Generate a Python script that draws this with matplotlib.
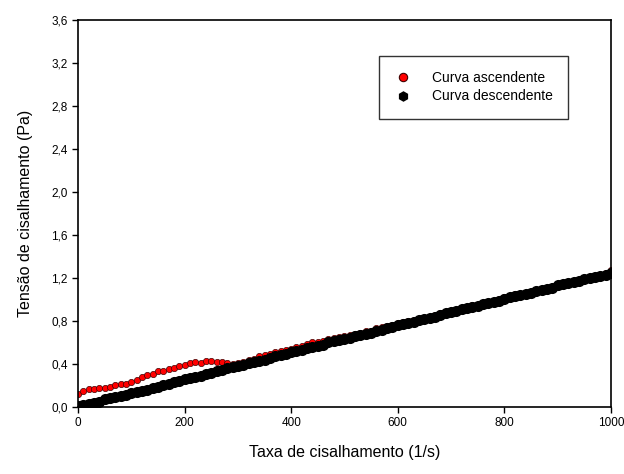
import numpy as np
import matplotlib
matplotlib.use('Agg')
import matplotlib.pyplot as plt
from matplotlib.ticker import FuncFormatter

plt.rcParams['font.family'] = ['Liberation Sans', 'DejaVu Sans']

# taxa de cisalhamento (1/s)
taxa = np.arange(0, 1001, 10)

# tensão de cisalhamento (Pa) - curva ascendente
tensao_asc = [0.12, 0.15, 0.17, 0.17, 0.18, 0.18, 0.19, 0.20, 0.21, 0.21,
              0.23, 0.25, 0.28, 0.30, 0.31, 0.33, 0.33, 0.35, 0.36, 0.38,
              0.39, 0.41, 0.42, 0.41, 0.43, 0.43, 0.42, 0.42, 0.41, 0.40,
              0.41, 0.42, 0.44, 0.45, 0.47, 0.48, 0.49, 0.51, 0.52, 0.53,
              0.54, 0.56, 0.57, 0.59, 0.60, 0.60, 0.61, 0.63, 0.64, 0.65,
              0.66, 0.67, 0.68, 0.69, 0.71, 0.71, 0.73, 0.74, 0.75, 0.76,
              0.78, 0.79, 0.80, 0.81, 0.82, 0.83, 0.84, 0.86, 0.87, 0.88,
              0.89, 0.90, 0.92, 0.93, 0.95, 0.95, 0.97, 0.98, 0.99, 1.00,
              1.02, 1.03, 1.05, 1.05, 1.06, 1.07, 1.09, 1.10, 1.11, 1.12,
              1.14, 1.15, 1.16, 1.17, 1.18, 1.20, 1.21, 1.22, 1.23, 1.25,
              1.27]

# curva descendente
tensao_desc = [0.01, 0.02, 0.03, 0.04, 0.05, 0.07, 0.08, 0.09, 0.10, 0.11,
               0.13, 0.14, 0.15, 0.16, 0.18, 0.19, 0.20, 0.21, 0.23, 0.24,
               0.26, 0.27, 0.28, 0.29, 0.31, 0.32, 0.33, 0.34, 0.36, 0.37,
               0.38, 0.39, 0.41, 0.42, 0.43, 0.44, 0.46, 0.47, 0.48, 0.49,
               0.51, 0.52, 0.53, 0.55, 0.56, 0.57, 0.58, 0.60, 0.61, 0.62,
               0.63, 0.64, 0.66, 0.67, 0.68, 0.69, 0.71, 0.72, 0.73, 0.74,
               0.76, 0.77, 0.78, 0.79, 0.81, 0.82, 0.83, 0.84, 0.86, 0.87,
               0.88, 0.89, 0.91, 0.92, 0.93, 0.94, 0.96, 0.97, 0.98, 0.99,
               1.00, 1.02, 1.03, 1.04, 1.05, 1.06, 1.08, 1.09, 1.10, 1.11,
               1.13, 1.14, 1.15, 1.16, 1.17, 1.19, 1.20, 1.21, 1.22, 1.23,
               1.25]

fig = plt.figure(figsize=(6.24, 4.74), dpi=100)
ax = fig.add_axes([0.125, 0.1414, 0.854, 0.8166])

ax.plot(taxa, tensao_asc, 'o', color='#ff0000', mec='#400000', mew=0.5,
        ms=4.5, label='Curva ascendente', zorder=2)
ax.plot(taxa, tensao_desc, 'o', color='black', ms=8, mew=0,
        label='Curva descendente', zorder=3)

ax.set_xlim(0, 1000)
ax.set_ylim(0, 3.6)
ax.set_xticks([0, 200, 400, 600, 800, 1000])
ax.set_yticks(np.arange(0, 3.61, 0.4))
ax.yaxis.set_major_formatter(FuncFormatter(lambda v, p: f'{v:.1f}'.replace('.', ',')))
ax.tick_params(direction='out', length=4, width=1, labelsize=8.5, top=False, right=False)
for s in ax.spines.values():
    s.set_linewidth(1.2)

ax.set_xlabel('Taxa de cisalhamento (1/s)', fontsize=11.5, labelpad=11)
ax.set_ylabel('Tensão de cisalhamento (Pa)', fontsize=11.5, labelpad=13)

leg_handles = [
    plt.Line2D([], [], ls='', marker='o', color='#ff0000', mec='#400000', mew=0.8, ms=6),
    plt.Line2D([], [], ls='', marker='h', color='black', ms=6.5),
]
leg = ax.legend(leg_handles, ['Curva ascendente', 'Curva descendente'],
                loc='upper left', bbox_to_anchor=(379 / 624, 1 - 56 / 474),
                bbox_transform=fig.transFigure, borderaxespad=0,
                fontsize=10, frameon=True, fancybox=False, borderpad=1.1,
                handlelength=1.2, handletextpad=1.5, labelspacing=0.3)
leg.get_frame().set_edgecolor('black')
leg.get_frame().set_linewidth(1.0)

fig.savefig('out.png', dpi=100)
